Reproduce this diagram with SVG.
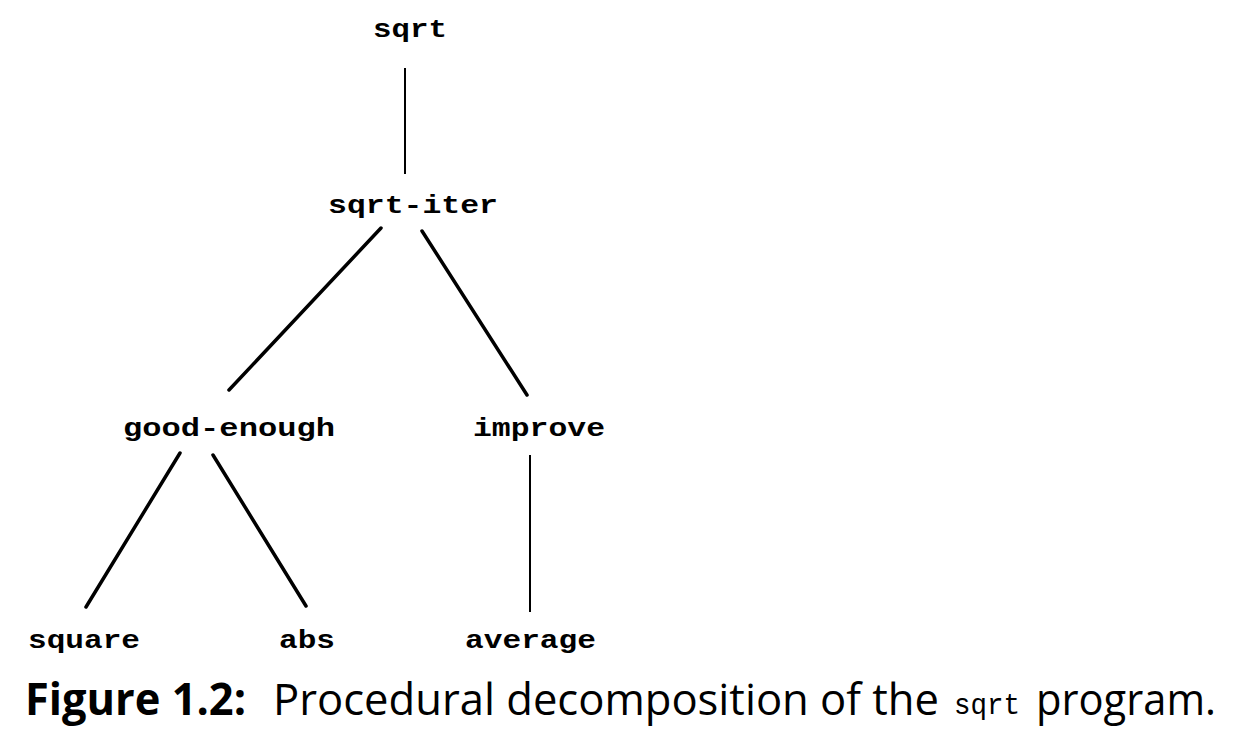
<svg xmlns="http://www.w3.org/2000/svg" width="1241" height="750" viewBox="0 0 1241 750">
<style>
.n{font-family:"Liberation Mono","DejaVu Sans Mono",monospace;font-weight:bold;font-size:25px;fill:#000}
.thin{stroke:#000;stroke-width:2;fill:none}
.thick{stroke:#000;stroke-width:3.5;fill:none;stroke-linecap:round}
.cap{font-family:"Open Sans","Noto Sans",sans-serif;font-size:44px;fill:#000}
</style>
<rect width="1241" height="750" fill="#fff"/>
<g id="connectors">
<line class="thin" x1="405" y1="68" x2="405" y2="174"/>
<line class="thick" x1="381" y1="228" x2="229" y2="390"/>
<line class="thick" x1="422" y1="231" x2="527" y2="395"/>
<line class="thick" x1="180" y1="453" x2="86" y2="607"/>
<line class="thick" x1="213" y1="455" x2="306" y2="606"/>
<line class="thin" x1="530" y1="455" x2="530" y2="612"/>
</g>
<g id="sqrt"><text class="n" x="373" y="37" textLength="74" lengthAdjust="spacingAndGlyphs">sqrt</text></g>
<g id="sqrt-iter"><text class="n" x="328" y="213" textLength="170" lengthAdjust="spacingAndGlyphs">sqrt-iter</text></g>
<g id="good-enough"><text class="n" x="123" y="436" textLength="212" lengthAdjust="spacingAndGlyphs">good-enough</text></g>
<g id="improve"><text class="n" x="473" y="436" textLength="132" lengthAdjust="spacingAndGlyphs">improve</text></g>
<g id="square"><text class="n" x="28" y="648" textLength="112" lengthAdjust="spacingAndGlyphs">square</text></g>
<g id="abs"><text class="n" x="279" y="648" textLength="56" lengthAdjust="spacingAndGlyphs">abs</text></g>
<g id="average"><text class="n" x="465" y="648" textLength="131" lengthAdjust="spacingAndGlyphs">average</text></g>
<g id="caption">
<text class="cap" x="25" y="715" font-weight="bold" textLength="221" lengthAdjust="spacingAndGlyphs">Figure 1.2:</text>
<text class="cap" x="273" y="715" textLength="666" lengthAdjust="spacingAndGlyphs">Procedural decomposition of the</text>
<text x="954" y="714" font-family="Liberation Mono, monospace" font-size="29" textLength="66" lengthAdjust="spacingAndGlyphs">sqrt</text>
<text class="cap" x="1036" y="715" textLength="180" lengthAdjust="spacingAndGlyphs">program.</text>
</g>
</svg>
